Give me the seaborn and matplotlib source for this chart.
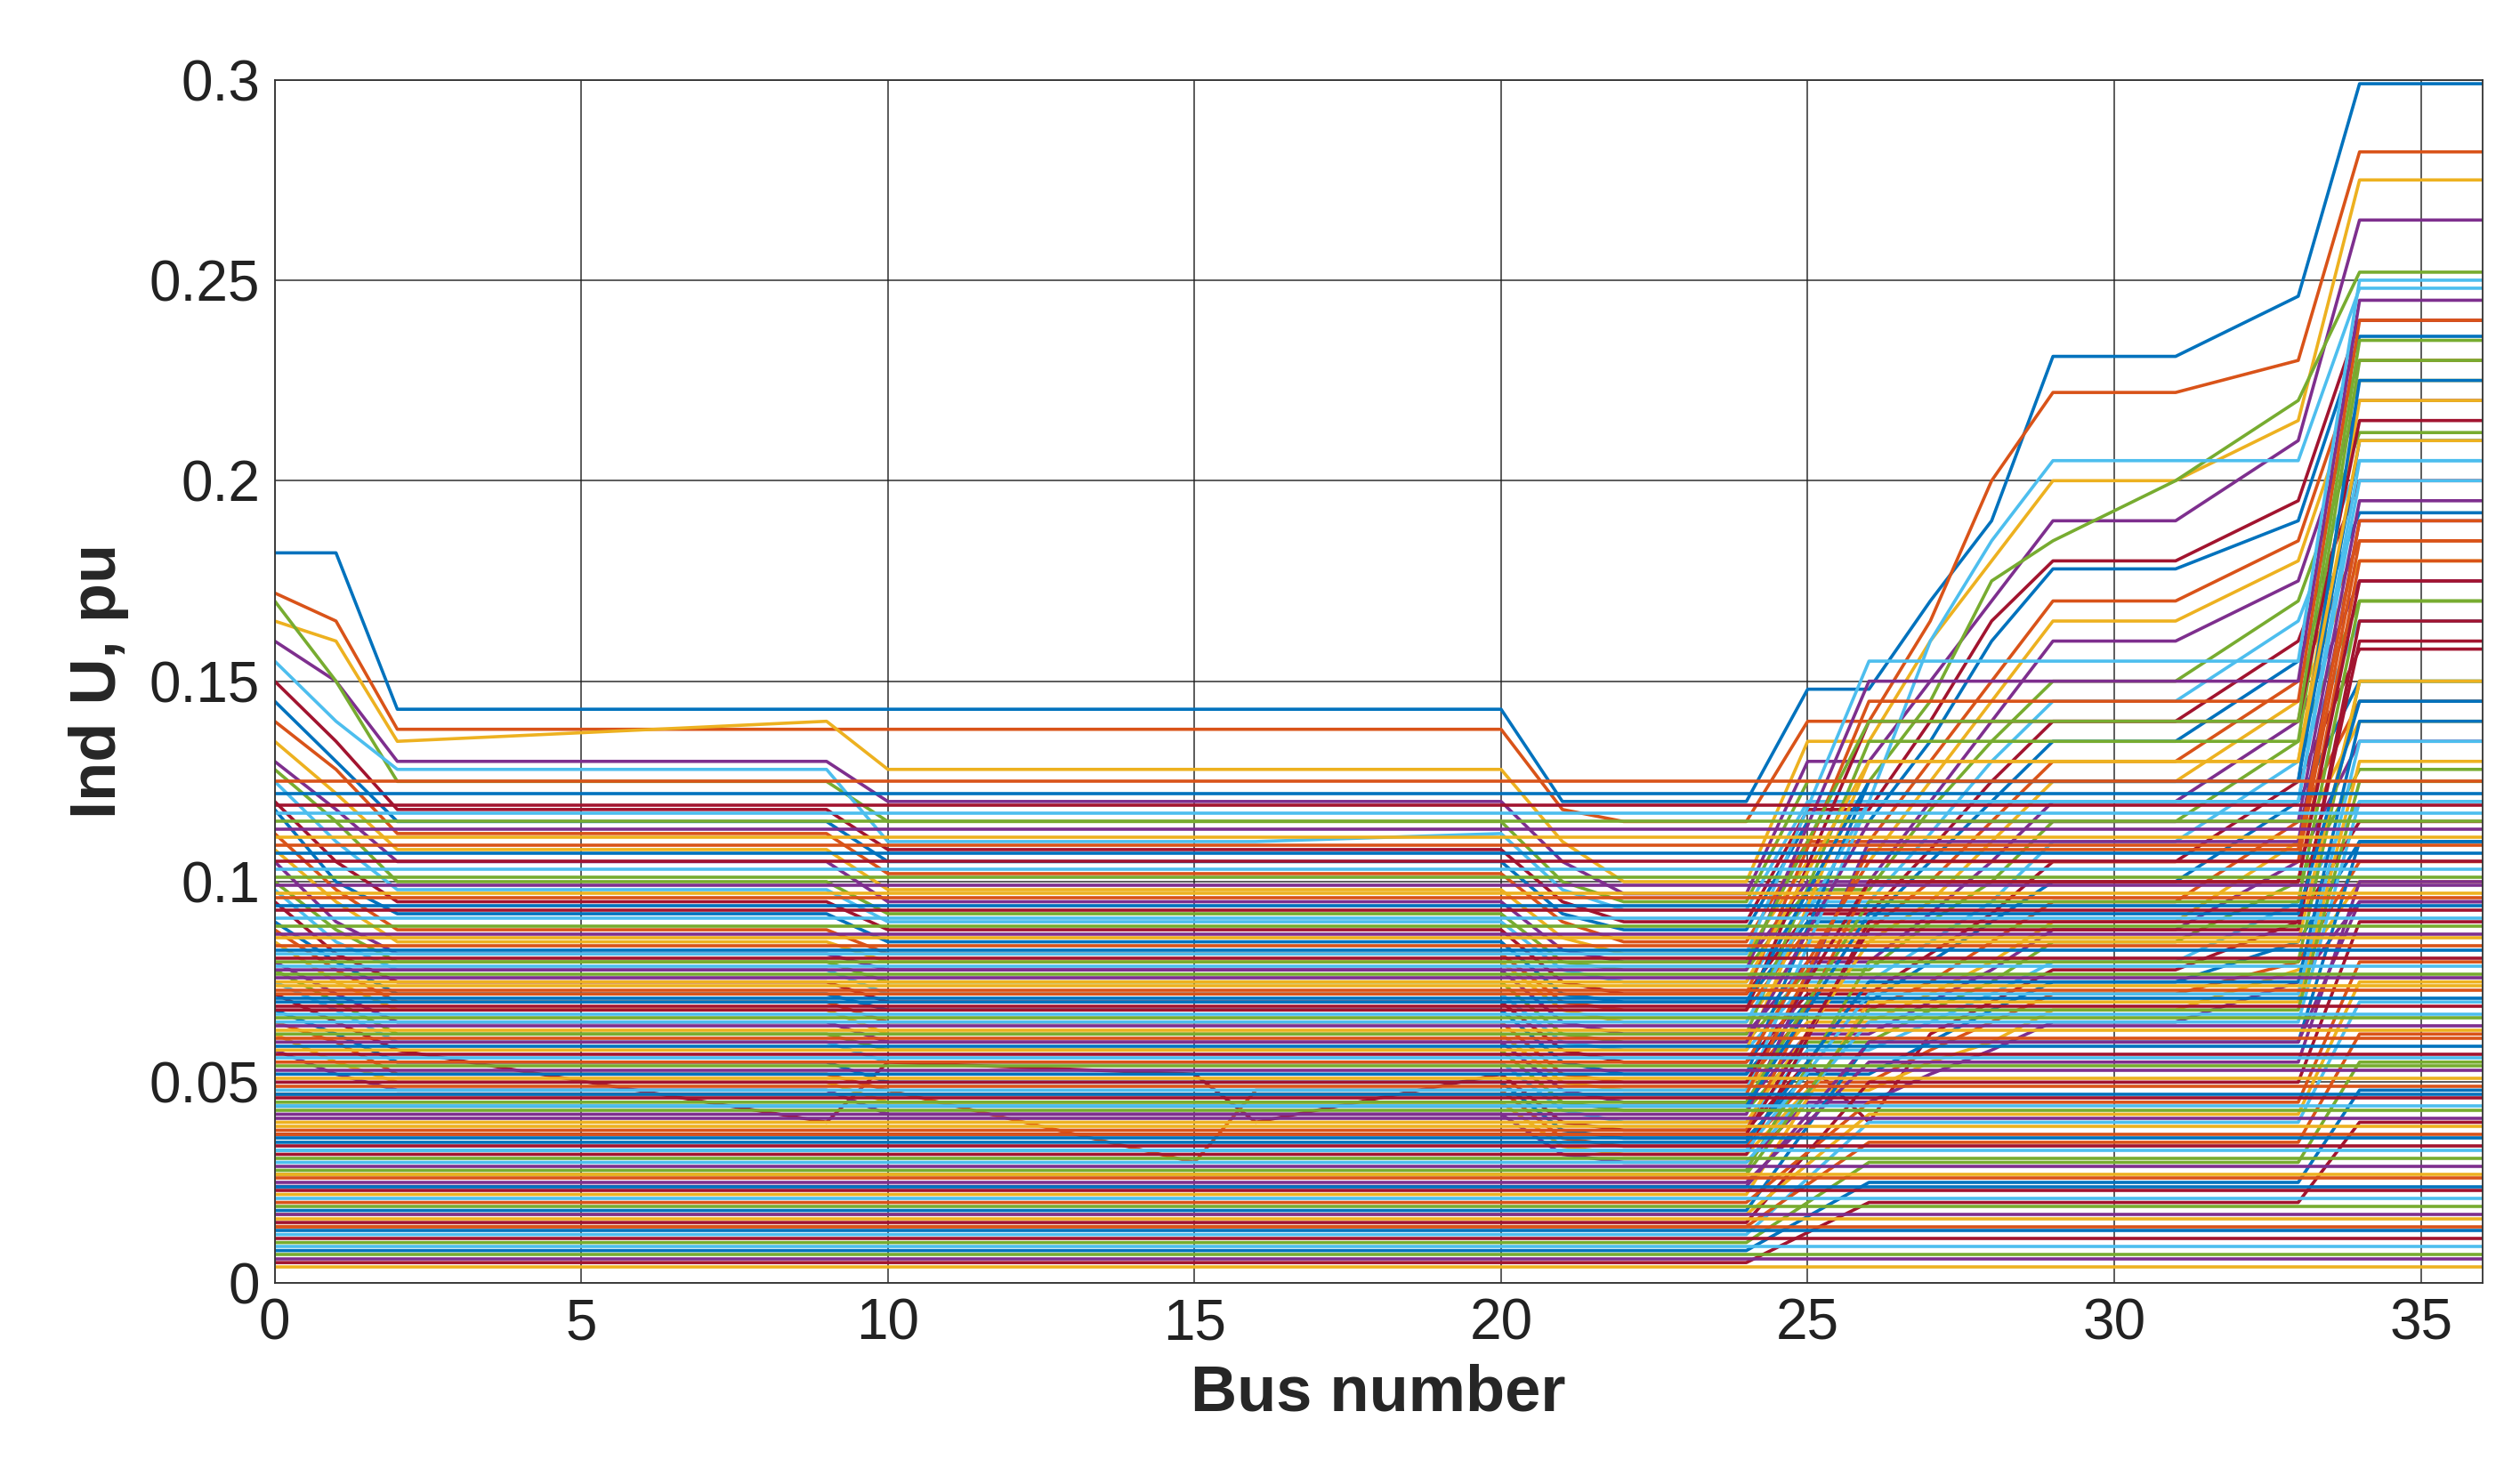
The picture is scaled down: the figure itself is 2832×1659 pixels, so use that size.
import pandas as pd
import seaborn as sns
import matplotlib.pyplot as plt

# key buses where the profiles change level
bus_keys = [0, 1, 2, 9, 10, 15, 16, 20, 21, 22, 24, 25, 26, 27, 28, 29, 31, 33, 34, 36]
profiles = [
    [0.182, 0.182, 0.143, 0.143, 0.143, 0.143, 0.143, 0.143, 0.120, 0.120, 0.120, 0.148, 0.148, 0.170, 0.190, 0.231, 0.231, 0.246, 0.299, 0.299],
    [0.172, 0.165, 0.138, 0.138, 0.138, 0.138, 0.138, 0.138, 0.118, 0.115, 0.115, 0.140, 0.140, 0.165, 0.200, 0.222, 0.222, 0.230, 0.282, 0.282],
    [0.165, 0.160, 0.135, 0.140, 0.128, 0.128, 0.128, 0.128, 0.110, 0.100, 0.100, 0.135, 0.135, 0.160, 0.180, 0.200, 0.200, 0.215, 0.275, 0.275],
    [0.160, 0.150, 0.130, 0.130, 0.120, 0.120, 0.120, 0.120, 0.105, 0.097, 0.097, 0.130, 0.130, 0.150, 0.170, 0.190, 0.190, 0.210, 0.265, 0.265],
    [0.170, 0.150, 0.125, 0.125, 0.115, 0.115, 0.115, 0.115, 0.100, 0.095, 0.095, 0.125, 0.125, 0.145, 0.175, 0.185, 0.200, 0.220, 0.252, 0.252],
    [0.155, 0.140, 0.128, 0.128, 0.110, 0.110, 0.110, 0.112, 0.098, 0.093, 0.093, 0.120, 0.120, 0.160, 0.185, 0.205, 0.205, 0.205, 0.248, 0.248],
    [0.150, 0.135, 0.118, 0.118, 0.108, 0.108, 0.108, 0.108, 0.095, 0.090, 0.090, 0.118, 0.118, 0.140, 0.165, 0.180, 0.180, 0.195, 0.240, 0.240],
    [0.145, 0.130, 0.115, 0.115, 0.105, 0.105, 0.105, 0.105, 0.092, 0.088, 0.088, 0.115, 0.115, 0.135, 0.160, 0.178, 0.178, 0.190, 0.236, 0.236],
    [0.140, 0.128, 0.112, 0.112, 0.102, 0.102, 0.102, 0.102, 0.090, 0.085, 0.085, 0.110, 0.110, 0.130, 0.150, 0.170, 0.170, 0.185, 0.230, 0.230],
    [0.135, 0.122, 0.108, 0.108, 0.098, 0.098, 0.098, 0.098, 0.086, 0.082, 0.082, 0.105, 0.105, 0.125, 0.145, 0.165, 0.165, 0.180, 0.225, 0.225],
    [0.130, 0.118, 0.105, 0.105, 0.095, 0.095, 0.095, 0.095, 0.083, 0.080, 0.080, 0.100, 0.100, 0.120, 0.140, 0.160, 0.160, 0.175, 0.220, 0.220],
    [0.128, 0.115, 0.100, 0.100, 0.092, 0.092, 0.092, 0.092, 0.080, 0.078, 0.078, 0.098, 0.098, 0.118, 0.135, 0.150, 0.150, 0.170, 0.212, 0.212],
    [0.125, 0.110, 0.098, 0.098, 0.090, 0.090, 0.090, 0.090, 0.078, 0.075, 0.075, 0.095, 0.095, 0.112, 0.130, 0.145, 0.145, 0.165, 0.205, 0.205],
    [0.120, 0.105, 0.095, 0.095, 0.088, 0.088, 0.088, 0.088, 0.075, 0.072, 0.072, 0.092, 0.092, 0.108, 0.125, 0.140, 0.140, 0.160, 0.200, 0.200],
    [0.118, 0.100, 0.092, 0.092, 0.085, 0.085, 0.085, 0.085, 0.072, 0.070, 0.070, 0.090, 0.090, 0.105, 0.120, 0.135, 0.135, 0.155, 0.192, 0.192],
    [0.112, 0.098, 0.088, 0.088, 0.082, 0.082, 0.082, 0.082, 0.070, 0.068, 0.068, 0.088, 0.088, 0.100, 0.115, 0.130, 0.130, 0.150, 0.185, 0.185],
    [0.108, 0.095, 0.085, 0.085, 0.080, 0.080, 0.080, 0.080, 0.068, 0.065, 0.065, 0.085, 0.085, 0.095, 0.110, 0.125, 0.125, 0.145, 0.180, 0.180],
    [0.105, 0.090, 0.082, 0.082, 0.078, 0.078, 0.078, 0.078, 0.065, 0.062, 0.062, 0.080, 0.080, 0.092, 0.105, 0.120, 0.120, 0.140, 0.175, 0.175],
    [0.100, 0.088, 0.080, 0.080, 0.075, 0.075, 0.075, 0.075, 0.062, 0.060, 0.060, 0.078, 0.078, 0.090, 0.100, 0.115, 0.115, 0.135, 0.170, 0.170],
    [0.098, 0.085, 0.078, 0.078, 0.072, 0.072, 0.072, 0.072, 0.060, 0.058, 0.058, 0.075, 0.075, 0.085, 0.095, 0.110, 0.110, 0.130, 0.165, 0.165],
    [0.095, 0.082, 0.075, 0.075, 0.070, 0.070, 0.070, 0.070, 0.058, 0.055, 0.055, 0.072, 0.072, 0.082, 0.092, 0.105, 0.105, 0.125, 0.158, 0.158],
    [0.090, 0.080, 0.072, 0.072, 0.068, 0.068, 0.068, 0.068, 0.055, 0.052, 0.052, 0.070, 0.070, 0.080, 0.090, 0.100, 0.100, 0.120, 0.150, 0.150],
    [0.088, 0.078, 0.070, 0.070, 0.065, 0.065, 0.065, 0.065, 0.052, 0.050, 0.050, 0.068, 0.068, 0.075, 0.085, 0.095, 0.095, 0.115, 0.145, 0.145],
    [0.085, 0.075, 0.068, 0.068, 0.062, 0.062, 0.062, 0.062, 0.050, 0.048, 0.048, 0.065, 0.065, 0.072, 0.080, 0.090, 0.090, 0.110, 0.140, 0.140],
    [0.080, 0.072, 0.065, 0.065, 0.060, 0.060, 0.060, 0.060, 0.048, 0.045, 0.045, 0.062, 0.062, 0.070, 0.078, 0.088, 0.088, 0.105, 0.135, 0.135],
    [0.078, 0.070, 0.062, 0.062, 0.058, 0.058, 0.058, 0.058, 0.045, 0.043, 0.043, 0.060, 0.060, 0.068, 0.075, 0.085, 0.085, 0.100, 0.128, 0.128],
    [0.075, 0.068, 0.060, 0.060, 0.055, 0.055, 0.055, 0.055, 0.043, 0.040, 0.040, 0.058, 0.058, 0.065, 0.072, 0.080, 0.080, 0.095, 0.120, 0.120],
    [0.072, 0.065, 0.058, 0.040, 0.055, 0.052, 0.040, 0.052, 0.040, 0.038, 0.038, 0.055, 0.040, 0.062, 0.070, 0.078, 0.078, 0.090, 0.115, 0.115],
    [0.068, 0.062, 0.055, 0.055, 0.050, 0.050, 0.050, 0.050, 0.038, 0.036, 0.036, 0.052, 0.052, 0.060, 0.068, 0.075, 0.075, 0.085, 0.110, 0.110],
    [0.065, 0.060, 0.052, 0.052, 0.048, 0.030, 0.048, 0.048, 0.036, 0.034, 0.034, 0.050, 0.050, 0.058, 0.065, 0.072, 0.072, 0.080, 0.105, 0.105],
    [0.062, 0.055, 0.050, 0.050, 0.045, 0.045, 0.045, 0.045, 0.034, 0.032, 0.032, 0.048, 0.048, 0.055, 0.060, 0.068, 0.068, 0.078, 0.100, 0.100],
    [0.058, 0.052, 0.048, 0.048, 0.042, 0.042, 0.042, 0.042, 0.032, 0.030, 0.030, 0.045, 0.045, 0.052, 0.058, 0.065, 0.065, 0.075, 0.095, 0.095],
]

# lines flat over the buses up to 24, then stepping at 26 and 34
step_keys = [0, 24, 26, 33, 34, 36]
step_levels = [
    (0.010, 0.030, 0.055), (0.012, 0.040, 0.070), (0.015, 0.050, 0.090), (0.018, 0.060, 0.110),
    (0.020, 0.045, 0.080), (0.022, 0.070, 0.130), (0.025, 0.055, 0.100), (0.028, 0.080, 0.150),
    (0.030, 0.065, 0.120), (0.032, 0.090, 0.160), (0.035, 0.075, 0.140), (0.038, 0.100, 0.180),
    (0.040, 0.085, 0.150), (0.042, 0.110, 0.190), (0.045, 0.095, 0.170), (0.048, 0.120, 0.200),
    (0.050, 0.100, 0.175), (0.052, 0.125, 0.210), (0.055, 0.105, 0.185), (0.058, 0.130, 0.220),
    (0.060, 0.115, 0.195), (0.062, 0.135, 0.230), (0.065, 0.120, 0.205), (0.068, 0.140, 0.215),
    (0.070, 0.125, 0.225), (0.072, 0.145, 0.240), (0.075, 0.130, 0.210), (0.078, 0.150, 0.245),
    (0.080, 0.140, 0.235), (0.082, 0.155, 0.250), (0.005, 0.020, 0.040), (0.008, 0.025, 0.048),
    (0.014, 0.035, 0.062), (0.017, 0.042, 0.075), (0.024, 0.060, 0.095), (0.027, 0.068, 0.125),
    (0.033, 0.072, 0.135), (0.037, 0.088, 0.165), (0.044, 0.092, 0.145), (0.047, 0.108, 0.190),
]

# lines that stay level over all buses
flat_levels = [
    0.004, 0.006, 0.007, 0.009, 0.011, 0.013, 0.014, 0.016, 0.017, 0.019, 0.021, 0.023,
    0.024, 0.026, 0.027, 0.029, 0.031, 0.033, 0.034, 0.036, 0.037, 0.039, 0.041, 0.043,
    0.044, 0.046, 0.047, 0.049, 0.051, 0.053, 0.054, 0.056, 0.057, 0.059, 0.061, 0.063,
    0.064, 0.066, 0.067, 0.069, 0.071, 0.073, 0.074, 0.076, 0.077, 0.079, 0.081, 0.083,
    0.084, 0.086, 0.087, 0.089, 0.091, 0.093, 0.094, 0.096, 0.097, 0.099, 0.101, 0.103,
    0.105, 0.107, 0.109, 0.111, 0.113, 0.115, 0.117, 0.119, 0.122, 0.125,
]

matlab_colors = ['#0072BD', '#D95319', '#EDB120', '#7E2F8E', '#77AC30', '#4DBEEE', '#A2142F']

rows = []
lid = 0
for p in profiles:
    for x, y in zip(bus_keys, p):
        rows.append((lid, x, y))
    lid += 1
for a, b, c in step_levels:
    for x, y in zip(step_keys, [a, a, b, b, c, c]):
        rows.append((lid, x, y))
    lid += 1
for v in flat_levels:
    for x in [0, 36]:
        rows.append((lid, x, v))
    lid += 1
df = pd.DataFrame(rows, columns=['line', 'bus', 'u'])

sns.set_style('white')
plt.rcParams['font.family'] = ['Liberation Sans', 'DejaVu Sans']

fig = plt.figure(figsize=(28.32, 16.59), dpi=100)
ax = fig.add_axes([0.109, 0.131, 0.876, 0.815])
palette = [matlab_colors[i % 7] for i in range(lid)]
sns.lineplot(data=df, x='bus', y='u', hue='line', palette=palette,
             legend=False, linewidth=2.6, ax=ax, estimator=None, sort=False)

ax.set_xlim(0, 36)
ax.set_ylim(0, 0.3)
ax.set_xticks(range(0, 36, 5))
ax.set_yticks([0, 0.05, 0.1, 0.15, 0.2, 0.25, 0.3])
ax.set_yticklabels(['0', '0.05', '0.1', '0.15', '0.2', '0.25', '0.3'])
ax.grid(True, color='#222222', linewidth=1.3, alpha=0.8)
ax.set_axisbelow(True)
for s in ax.spines.values():
    s.set_color('#333333')
    s.set_linewidth(1.3)
ax.tick_params(labelsize=46, colors='#222222', length=0, pad=12)
ax.set_xlabel('Bus number', fontsize=52, fontweight='bold', labelpad=10)
ax.set_ylabel('Ind U, pu', fontsize=52, fontweight='bold', labelpad=16)

fig.savefig('out.png', dpi=100)
